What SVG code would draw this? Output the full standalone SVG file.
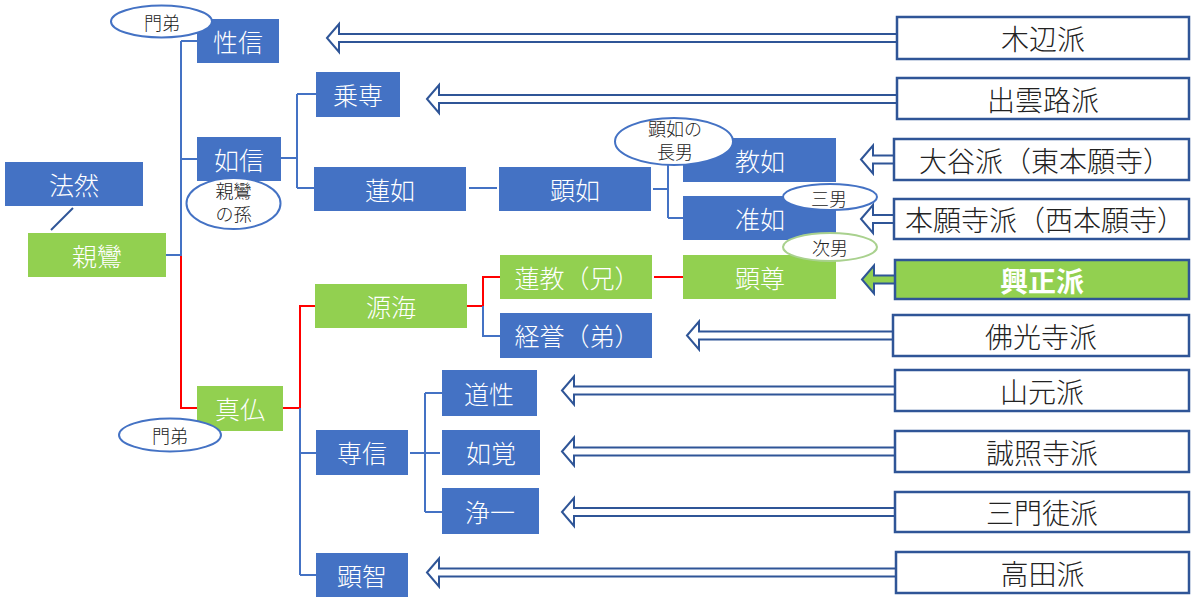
<svg xmlns="http://www.w3.org/2000/svg" width="1200" height="600" viewBox="0 0 1200 600">
<style>
text{font-family:"Noto Sans CJK JP","Noto Sans CJK SC",sans-serif;text-anchor:middle;dominant-baseline:central;font-weight:300}
.b{fill:#4472C4}
.g{fill:#92D050}
.w{fill:#FFFFFF;stroke:#2F5597;stroke-width:2.5}
.gb{fill:#92D050;stroke:#2F5597;stroke-width:2.5}
.lt{fill:#FFFFFF;font-size:25px}
.rt{fill:#222222;font-size:28px}
.bt{fill:#FFFFFF;font-size:28px;font-weight:bold}
.bl{fill:none;stroke:#4472C4;stroke-width:2}
.rd{fill:none;stroke:#FF0000;stroke-width:2}
.ar{fill:#FFFFFF;stroke:#2F5597;stroke-width:2;stroke-linejoin:miter}
.arg{fill:#92D050;stroke:#2F5597;stroke-width:2}
.ov{fill:#FFFFFF;stroke:#4472C4;stroke-width:2}
.ovg{fill:#FFFFFF;stroke:#A9D18E;stroke-width:2}
.ot{fill:#222222;font-size:18px}
.ot2{fill:#222222;font-size:18px;dominant-baseline:auto}
</style>
<g id="connectors">
<path d="M73,208 L51,230" fill="none" stroke="#2F5597" stroke-width="2"/>
<path class="bl" d="M166,255 H181 M181,41 V256 M181,41 H197 M181,159 H197"/>
<path class="rd" d="M181,256 V408 H197"/>
<path class="rd" d="M283,408 H300 V306 H315"/>
<path class="bl" d="M300,408 V575 M300,453 H316 M300,575 H316"/>
<path class="bl" d="M281,158 H297 M297,94 V188 M297,94 H316 M297,188 H314"/>
<path class="bl" d="M469,188 H497"/>
<path class="bl" d="M653,189 H668 M668,160 V218 M668,160 H683 M668,218 H683"/>
<path class="rd" d="M467,306 H483 V277 H500"/>
<path class="bl" d="M483,306 V336 H500"/>
<path class="rd" d="M654,277 H683"/>
<path class="bl" d="M410,453 H440 M425,393 V512 M425,393 H442 M425,512 H442"/>
<polygon class="ar" points="327,38 339,24 339,34 899,34 899,42 339,42 339,52"/>
<polygon class="ar" points="427,99 439,85 439,95 899,95 899,103 439,103 439,113"/>
<polygon class="ar" points="861,159.5 873,145.5 873,155.5 896,155.5 896,163.5 873,163.5 873,173.5"/>
<polygon class="ar" points="861,219 873,205 873,215 896,215 896,223 873,223 873,233"/>
<polygon class="arg" points="862,279.5 874,265.5 874,275.5 897,275.5 897,283.5 874,283.5 874,293.5"/>
<polygon class="ar" points="687,335.5 699,321.5 699,331.5 895,331.5 895,339.5 699,339.5 699,349.5"/>
<polygon class="ar" points="562,390.5 574,376.5 574,386.5 897,386.5 897,394.5 574,394.5 574,404.5"/>
<polygon class="ar" points="562,451.5 574,437.5 574,447.5 897,447.5 897,455.5 574,455.5 574,465.5"/>
<polygon class="ar" points="562,512 574,498 574,508 897,508 897,516 574,516 574,526"/>
<polygon class="ar" points="427,572.5 439,558.5 439,568.5 898,568.5 898,576.5 439,576.5 439,586.5"/>
</g>
<g id="honen"><rect class="b" x="5" y="162" width="138" height="44"/><text class="lt" x="74" y="184" font-size="26">法然</text></g>
<g id="shinran"><rect class="g" x="28" y="233" width="138" height="44"/><text class="lt" x="97" y="255">親鸞</text></g>
<g id="shoshin"><rect class="b" x="197" y="19" width="82" height="44"/><text class="lt" x="238" y="41">性信</text></g>
<g id="nyoshin"><rect class="b" x="197" y="137" width="84" height="44"/><text class="lt" x="239" y="159">如信</text></g>
<g id="shinbutsu"><rect class="g" x="197" y="386" width="86" height="45"/><text class="lt" x="240" y="408">真仏</text></g>
<g id="josen"><rect class="b" x="316" y="72" width="84" height="45"/><text class="lt" x="358" y="94">乗専</text></g>
<g id="rennyo"><rect class="b" x="314" y="167" width="152" height="44"/><text class="lt" x="390" y="189">蓮如</text></g>
<g id="genkai"><rect class="g" x="315" y="284" width="152" height="44"/><text class="lt" x="391" y="306">源海</text></g>
<g id="senshin"><rect class="b" x="316" y="430" width="92" height="45"/><text class="lt" x="362" y="452">専信</text></g>
<g id="kenchi"><rect class="b" x="316" y="553" width="92" height="44"/><text class="lt" x="362" y="575">顕智</text></g>
<g id="kennyo"><rect class="b" x="499" y="167" width="152" height="44"/><text class="lt" x="575" y="189">顕如</text></g>
<g id="renkyo"><rect class="g" x="500" y="255" width="152" height="44"/><text class="lt" x="577" y="277" font-size="24">蓮教（兄）</text></g>
<g id="keiyo"><rect class="b" x="500" y="313" width="152" height="45"/><text class="lt" x="577" y="335" font-size="24">経誉（弟）</text></g>
<g id="dosho"><rect class="b" x="442" y="370" width="95" height="46"/><text class="lt" x="489" y="393">道性</text></g>
<g id="nyokaku"><rect class="b" x="442" y="430" width="98" height="45"/><text class="lt" x="491" y="452">如覚</text></g>
<g id="joichi"><rect class="b" x="442" y="488" width="97" height="46"/><text class="lt" x="490" y="511">浄一</text></g>
<g id="kyonyo"><rect class="b" x="683" y="138" width="153" height="44"/><text class="lt" x="760" y="160">教如</text></g>
<g id="junnyo"><rect class="b" x="683" y="196" width="153" height="44"/><text class="lt" x="760" y="218">准如</text></g>
<g id="kenson"><rect class="g" x="683" y="255" width="153" height="44"/><text class="lt" x="760" y="277">顕尊</text></g>
<g id="kibe"><rect class="w" x="897" y="17" width="292" height="42"/><text class="rt" x="1043" y="38">木辺派</text></g>
<g id="izumoji"><rect class="w" x="897" y="78" width="292" height="41"/><text class="rt" x="1043" y="98.5">出雲路派</text></g>
<g id="otani"><rect class="w" x="894" y="139" width="295" height="41"/><text class="rt" x="1045" y="159.5" font-size="27">大谷派（東本願寺）</text></g>
<g id="honganji"><rect class="w" x="894" y="199" width="295" height="40"/><text class="rt" x="1045" y="219" font-size="27">本願寺派（西本願寺）</text></g>
<g id="kosho"><rect class="gb" x="895" y="260" width="294" height="39"/><text class="bt" x="1042" y="279.5">興正派</text></g>
<g id="bukkoji"><rect class="w" x="893" y="315" width="296" height="41"/><text class="rt" x="1041" y="335.5">佛光寺派</text></g>
<g id="yamamoto"><rect class="w" x="895" y="370" width="294" height="41"/><text class="rt" x="1042" y="390.5">山元派</text></g>
<g id="jokoji"><rect class="w" x="895" y="431" width="294" height="41"/><text class="rt" x="1042" y="451.5">誠照寺派</text></g>
<g id="sanmonto"><rect class="w" x="895" y="492" width="294" height="40"/><text class="rt" x="1042" y="512">三門徒派</text></g>
<g id="takada"><rect class="w" x="896" y="552" width="293" height="41"/><text class="rt" x="1042.5" y="572.5">高田派</text></g>
<g id="note-montei1"><ellipse class="ov" cx="161.5" cy="21.5" rx="50.5" ry="16"/><text class="ot" x="162" y="21.5" font-size="19">門弟</text></g>
<g id="note-mago"><ellipse class="ov" cx="233.5" cy="203.5" rx="47" ry="25.5"/><text class="ot2" x="233.5" y="198"><tspan x="233.5" y="198">親鸞</tspan><tspan x="233.5" y="221">の孫</tspan></text></g>
<g id="note-montei2"><ellipse class="ov" cx="170" cy="435" rx="51" ry="16.5"/><text class="ot" x="170" y="435" font-size="19">門弟</text></g>
<g id="note-chonan"><ellipse class="ov" cx="674" cy="141.5" rx="59" ry="23.5"/><text class="ot2" x="675" y="136"><tspan x="675" y="136">顕如の</tspan><tspan x="675" y="159">長男</tspan></text></g>
<g id="note-sannan"><ellipse class="ov" cx="830" cy="197" rx="47" ry="13"/><text class="ot" x="829" y="197.5">三男</text></g>
<g id="note-jinan"><ellipse class="ovg" cx="830" cy="247" rx="47" ry="14"/><text class="ot" x="830" y="247">次男</text></g>
</svg>
